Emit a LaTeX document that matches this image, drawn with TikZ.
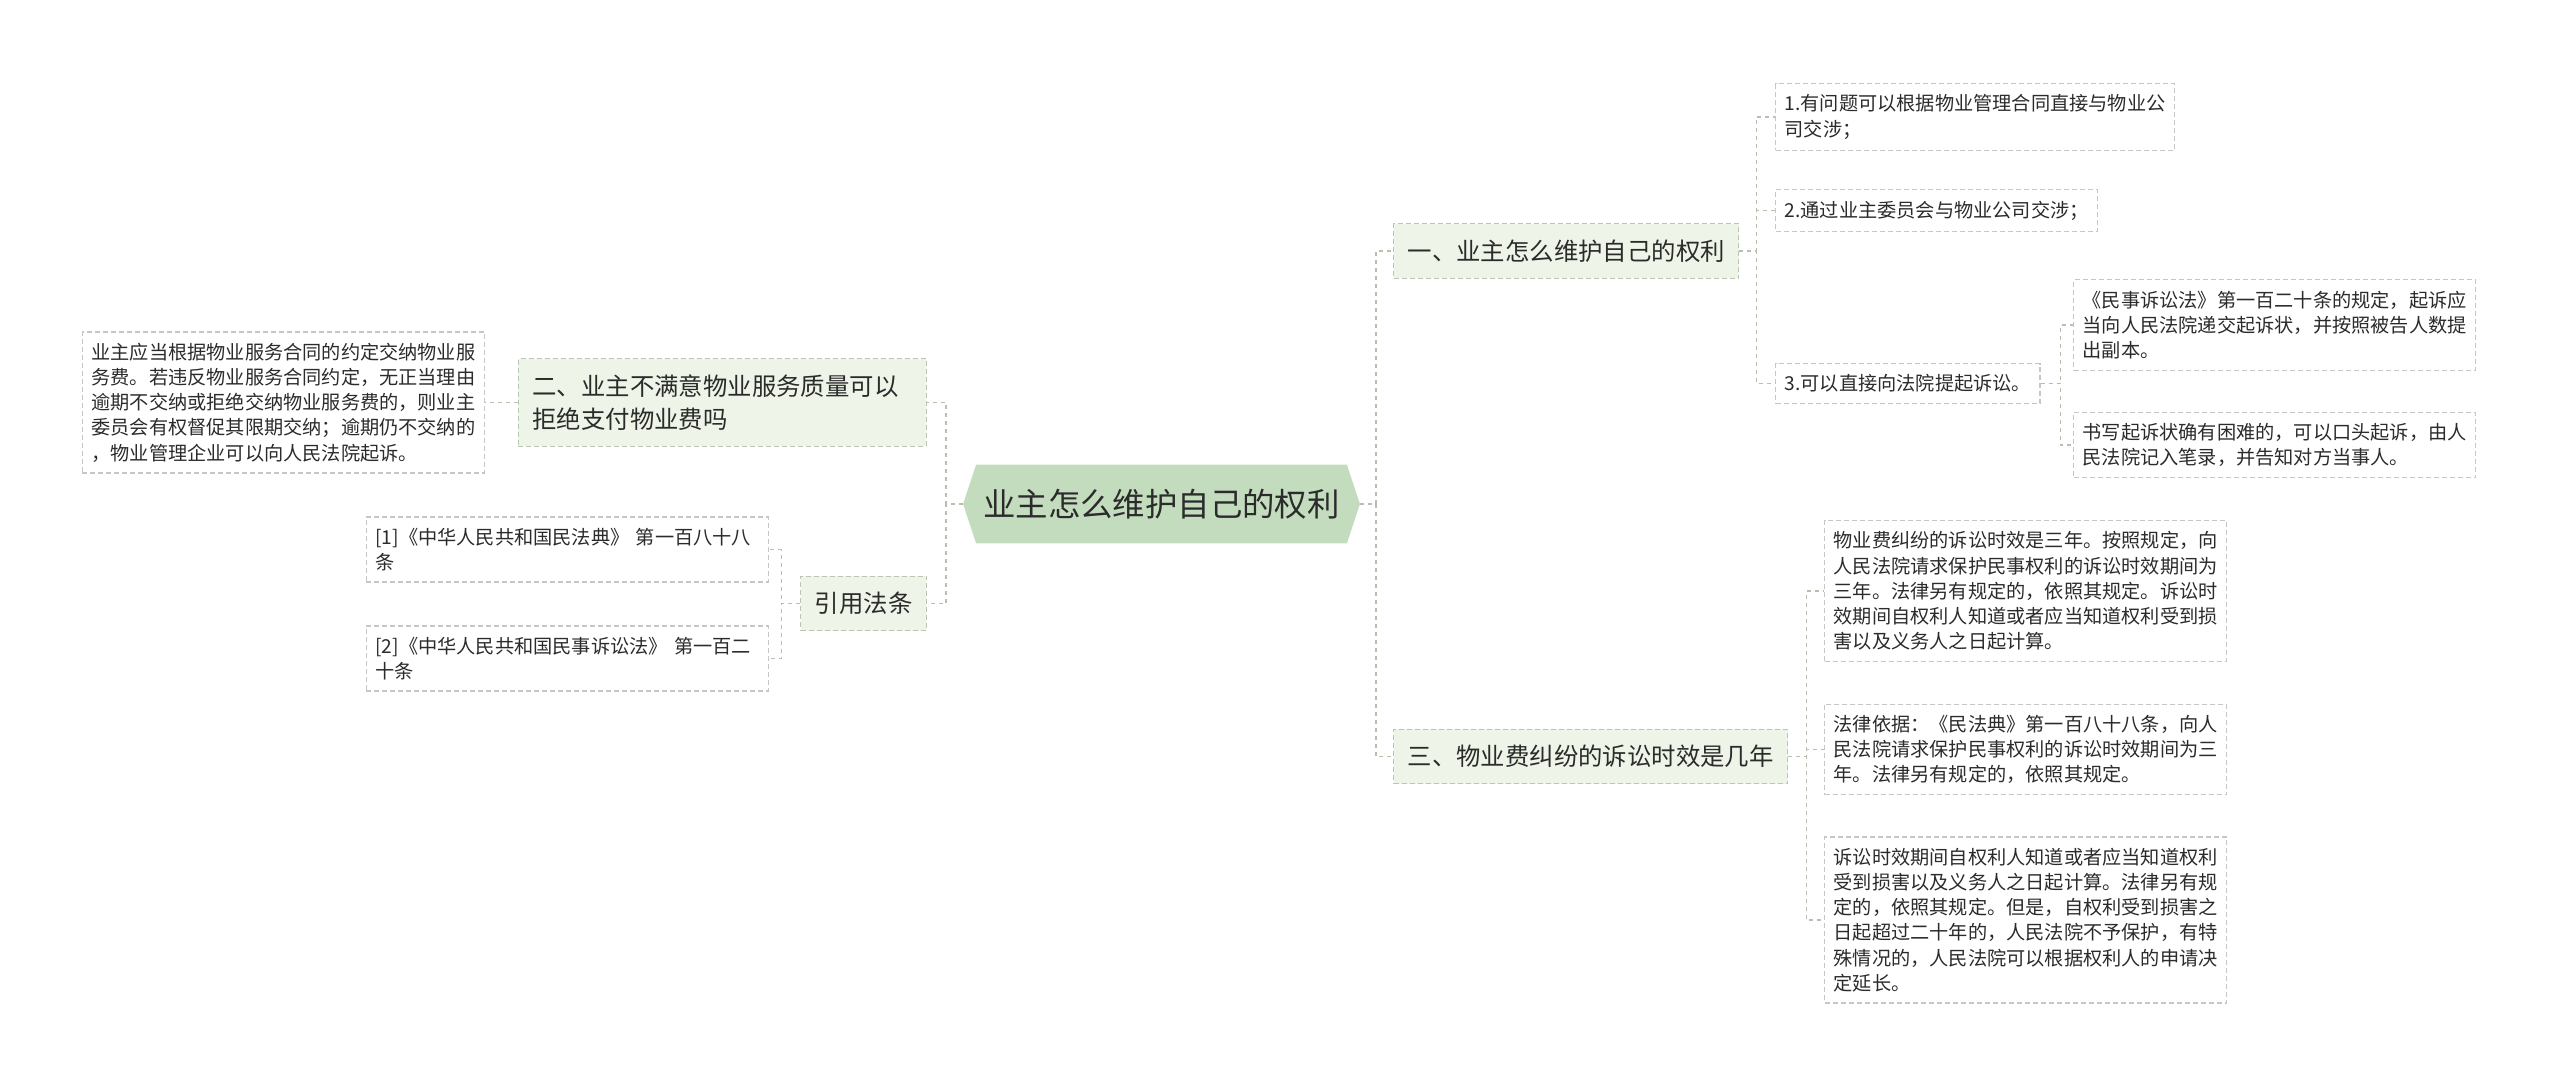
\documentclass[tikz,border=0pt]{standalone}
\usepackage{fontspec}
\setmainfont{Noto Sans CJK SC}
\usetikzlibrary{positioning,backgrounds}
\definecolor{hubgreen}{HTML}{C3DCBE}
\definecolor{lvlfill}{HTML}{EEF5E8}
\definecolor{lvlline}{HTML}{B9C6B1}
\definecolor{leafline}{HTML}{C6C6C6}
\definecolor{linkcol}{HTML}{B6C0AE}
\definecolor{inkgray}{HTML}{2B2B2B}
\tikzset{
  link/.style={draw=linkcol,line width=0.7pt,dash pattern=on 2pt off 2pt},
  hub/.style={minimum width=185pt,minimum height=39pt,inner sep=0pt,
              font=\fontsize{16.2pt}{20pt}\selectfont,text=inkgray},
  lvl/.style={draw=lvlline,fill=lvlfill,line width=0.6pt,dash pattern=on 2.5pt off 1.5pt,
              align=left,inner xsep=7pt,inner ysep=8pt,
              font=\fontsize{12.2pt}{16.3pt}\selectfont,text=inkgray},
  leaf/.style={draw=leafline,fill=white,line width=0.6pt,dash pattern=on 2.5pt off 1.5pt,
               align=left,inner xsep=4.5pt,inner ysep=5.5pt,
               font=\fontsize{9.6pt}{12.6pt}\selectfont,text=inkgray}
}
\begin{document}
\begin{tikzpicture}[x=0.5pt,y=-0.5pt]
\useasboundingbox (0,0) rectangle (2560,1087);
\node[hub] (hub) at (1161.5,504) {业主怎么维护自己的权利};
\begin{scope}[on background layer]
\fill[hubgreen] (hub.north west) -- (hub.north east) -- ([xshift=6.5pt]hub.east)
  -- (hub.south east) -- (hub.south west) -- ([xshift=-6.5pt]hub.west) -- cycle;
\end{scope}

% right side
\node[lvl,anchor=west] (one) at (1393,251) {一、业主怎么维护自己的权利};
\node[lvl,anchor=west] (three) at (1393,756.5) {三、物业费纠纷的诉讼时效是几年};
\node[leaf,anchor=west] (b1) at (1775,117) {1.有问题可以根据物业管理合同直接与物业公\\司交涉；};
\node[leaf,anchor=west] (b2) at (1775,210.5) {2.通过业主委员会与物业公司交涉；};
\node[leaf,anchor=west] (b3) at (1775,383.5) {3.可以直接向法院提起诉讼。};
\node[leaf,anchor=west] (sue1) at (2073,325) {《民事诉讼法》第一百二十条的规定，起诉应\\当向人民法院递交起诉状，并按照被告人数提\\出副本。};
\node[leaf,anchor=west] (sue2) at (2073,445) {书写起诉状确有困难的，可以口头起诉，由人\\民法院记入笔录，并告知对方当事人。};
\node[leaf,anchor=west] (lim1) at (1824,591) {物业费纠纷的诉讼时效是三年。按照规定，向\\人民法院请求保护民事权利的诉讼时效期间为\\三年。法律另有规定的，依照其规定。诉讼时\\效期间自权利人知道或者应当知道权利受到损\\害以及义务人之日起计算。};
\node[leaf,anchor=west] (lim2) at (1824,749.5) {法律依据：《民法典》第一百八十八条，向人\\民法院请求保护民事权利的诉讼时效期间为三\\年。法律另有规定的，依照其规定。};
\node[leaf,anchor=west] (lim3) at (1824,920) {诉讼时效期间自权利人知道或者应当知道权利\\受到损害以及义务人之日起计算。法律另有规\\定的，依照其规定。但是，自权利受到损害之\\日起超过二十年的，人民法院不予保护，有特\\殊情况的，人民法院可以根据权利人的申请决\\定延长。};

% left side
\node[lvl,anchor=east,text width=190pt] (two) at (927,402.5) {二、业主不满意物业服务质量可以\\拒绝支付物业费吗};
\node[leaf,anchor=east] (fee) at (485,402.5) {业主应当根据物业服务合同的约定交纳物业服\\务费。若违反物业服务合同约定，无正当理由\\逾期不交纳或拒绝交纳物业服务费的，则业主\\委员会有权督促其限期交纳；逾期仍不交纳的\\，物业管理企业可以向人民法院起诉。};
\node[lvl,anchor=east] (cite) at (927,603.5) {引用法条};
\node[leaf,anchor=east,text width=192pt] (law1) at (769,549.5) {[1]《中华人民共和国民法典》 第一百八十八\\条};
\node[leaf,anchor=east,text width=192pt] (law2) at (769,658.5) {[2]《中华人民共和国民事诉讼法》 第一百二\\十条};

% connectors
\foreach \kid in {one,three}
  \draw[link] ([xshift=6.5pt]hub.east) -- ++(8pt,0) |- (\kid.west);
\foreach \kid in {two,cite}
  \draw[link] ([xshift=-6.5pt]hub.west) -- ++(-8.5pt,0) |- (\kid.east);
\foreach \kid in {b1,b2,b3}
  \draw[link] (one.east) -- ++(8.5pt,0) |- (\kid.west);
\foreach \kid in {sue1,sue2}
  \draw[link] (b3.east) -- ++(10pt,0) |- (\kid.west);
\foreach \kid in {lim1,lim2,lim3}
  \draw[link] (three.east) -- ++(9pt,0) |- (\kid.west);
\draw[link] (two.west) -- (fee.east);
\foreach \kid in {law1,law2}
  \draw[link] (cite.west) -- ++(-9.5pt,0) |- (\kid.east);
\end{tikzpicture}
\end{document}
